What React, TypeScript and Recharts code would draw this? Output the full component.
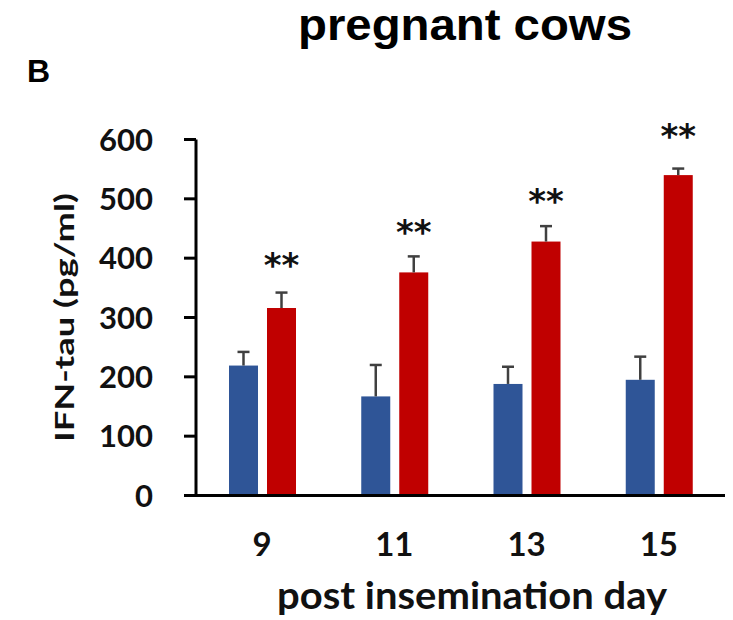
import React from 'react';
import { BarChart, Bar, XAxis, YAxis } from 'recharts';

// ---- data ----
const days = ['9', '11', '13', '15'];
const controlMean = [219, 167, 188, 195];
const controlErr = [23, 53, 29, 39];
const pregnantMean = [316, 376, 428, 540];
const pregnantErr = [26, 27, 26, 11];
const sigLabels = ['**', '**', '**', '**'];
const sigLevel = [400, 455, 508, 618];
const yTicks = [0, 100, 200, 300, 400, 500, 600];

const data = days.map((d, i) => ({
  day: d,
  control: controlMean[i],
  controlErr: controlErr[i],
  pregnant: pregnantMean[i],
  pregnantErr: pregnantErr[i],
  sig: sigLabels[i],
  sigLevel: sigLevel[i],
}));

const BLUE = '#2F5597';
const RED = '#C00000';
const ERR = '#404040';
const TXT = '#111111';
const LATO = 'Lato, "Open Sans", sans-serif';

const STAR_SIZE = 34;

const makeShape = (meanKey: string, errKey: string, showSig: boolean) => (props: any) => {
  const { x, y, width, height, payload, fill } = props;
  const value = payload[meanKey];
  const ppu = value ? height / value : 0;
  const cx = x + width / 2;
  const errTop = y - payload[errKey] * ppu;
  const base = y + height;
  const starCenter = base - payload.sigLevel * ppu;
  return (
    <g>
      <rect x={x} y={y} width={width} height={height} fill={fill} />
      <line x1={cx} x2={cx} y1={y} y2={errTop} stroke={ERR} strokeWidth={2.5} />
      <line x1={cx - 6} x2={cx + 6} y1={errTop} y2={errTop} stroke={ERR} strokeWidth={2.5} />
      {showSig && (
        <text
          x={cx}
          y={starCenter + 0.55 * STAR_SIZE}
          textAnchor="middle"
          fontFamily='"DejaVu Sans", sans-serif'
          fontWeight={700}
          fontSize={STAR_SIZE}
          fill={TXT}
        >
          {payload.sig}
        </text>
      )}
    </g>
  );
};

export default function App() {
  return (
    <div style={{ position: 'absolute', left: 0, top: 0, width: 733, height: 620, background: '#fff' }}>
      <BarChart
        width={733}
        height={620}
        data={data}
        margin={{ top: 139.5, right: 8, bottom: 64.5, left: 0 }}
        barCategoryGap={33}
        barGap={9}
      >
        <XAxis
          dataKey="day"
          height={60}
          axisLine={{ stroke: '#000', strokeWidth: 3 }}
          tickLine={false}
          tickSize={0}
          tickMargin={37}
          tick={{ fontFamily: LATO, fontWeight: 700, fontSize: 33, fill: TXT }}
        />
        <YAxis
          width={196}
          domain={[0, 600]}
          ticks={yTicks}
          interval={0}
          axisLine={{ stroke: '#000', strokeWidth: 3 }}
          tickLine={{ stroke: '#000', strokeWidth: 3 }}
          tickSize={12}
          tickMargin={31}
          tick={{ fontFamily: LATO, fontWeight: 700, fontSize: 31, fill: TXT }}
        />
        <Bar dataKey="control" fill={BLUE} isAnimationActive={false} shape={makeShape('control', 'controlErr', false)} />
        <Bar dataKey="pregnant" fill={RED} isAnimationActive={false} shape={makeShape('pregnant', 'pregnantErr', true)} />
      </BarChart>
      <svg width={733} height={620} style={{ position: 'absolute', left: 0, top: 0, pointerEvents: 'none' }}>
        <text
          x={465}
          y={40}
          textAnchor="middle"
          fontFamily='"Liberation Sans", Arial, sans-serif'
          fontWeight={700}
          fontSize={44}
          textLength={334}
          lengthAdjust="spacingAndGlyphs"
          fill="#000"
        >
          pregnant cows
        </text>
        <text x={27} y={82} fontFamily='"Liberation Sans", Arial, sans-serif' fontWeight={700} fontSize={32} fill="#000">
          B
        </text>
        <text
          transform="translate(74,317.5) rotate(-90)"
          x={0}
          y={0}
          textAnchor="middle"
          fontFamily={LATO}
          fontWeight={700}
          fontSize={27}
          textLength={249}
          lengthAdjust="spacingAndGlyphs"
          fill={TXT}
        >
          IFN-tau (pg/ml)
        </text>
        <text
          x={472}
          y={609}
          textAnchor="middle"
          fontFamily={LATO}
          fontWeight={700}
          fontSize={38}
          textLength={390}
          lengthAdjust="spacingAndGlyphs"
          fill={TXT}
        >
          post insemination day
        </text>
      </svg>
    </div>
  );
}
